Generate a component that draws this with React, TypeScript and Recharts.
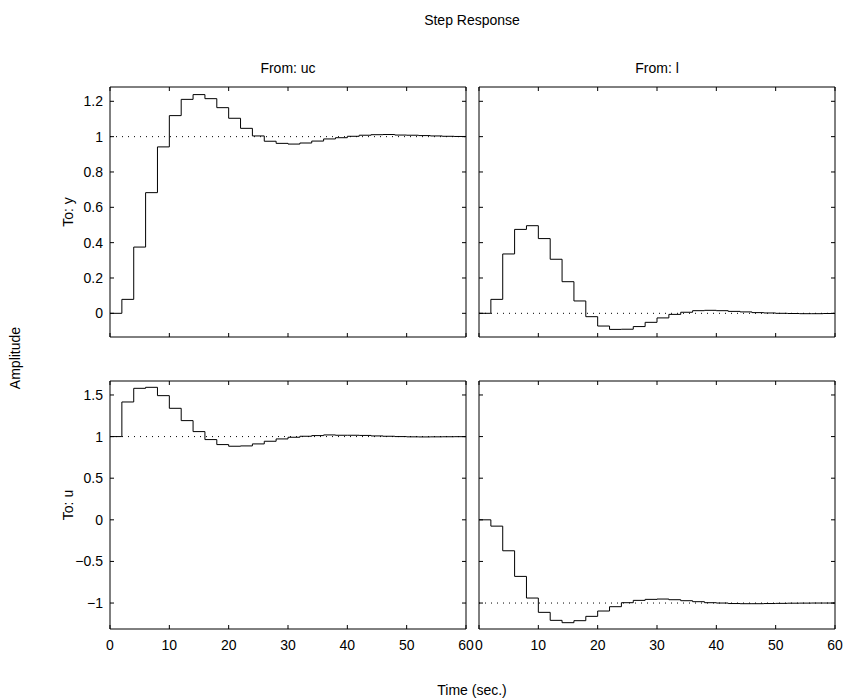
import { LineChart, Line, XAxis, YAxis, ReferenceLine } from 'recharts';

// sample instants (sec), sampling period 2
const time = [0, 2, 4, 6, 8, 10, 12, 14, 16, 18, 20, 22, 24, 26, 28, 30, 32, 34, 36, 38, 40, 42, 44, 46, 48, 50, 52, 54, 56, 58, 60];

// From: uc -> To: y
const ucToY = [0, 0.079, 0.375, 0.683, 0.942, 1.119, 1.211, 1.238, 1.215, 1.164, 1.104, 1.047, 1.004, 0.974, 0.962, 0.958, 0.964, 0.975, 0.987, 0.994, 1.002, 1.008, 1.011, 1.012, 1.009, 1.008, 1.006, 1.004, 1.002, 1.001, 1.0];
// From: l -> To: y
const lToY = [0, 0.079, 0.336, 0.475, 0.496, 0.423, 0.306, 0.179, 0.07, -0.019, -0.072, -0.091, -0.09, -0.075, -0.051, -0.026, -0.006, 0.006, 0.015, 0.017, 0.015, 0.011, 0.008, 0.004, 0.002, 0, -0.001, -0.002, -0.002, -0.001, 0];
// From: uc -> To: u
const ucToU = [1.0, 1.416, 1.58, 1.592, 1.492, 1.34, 1.192, 1.06, 0.964, 0.904, 0.884, 0.888, 0.912, 0.944, 0.972, 0.992, 1.004, 1.012, 1.02, 1.016, 1.016, 1.014, 1.008, 1.004, 1.0, 0.997, 0.996, 0.997, 0.998, 0.999, 1.0];
// From: l -> To: u
const lToU = [0, -0.076, -0.372, -0.68, -0.94, -1.112, -1.208, -1.236, -1.212, -1.16, -1.096, -1.044, -0.996, -0.968, -0.956, -0.952, -0.96, -0.972, -0.984, -0.996, -1.0, -1.006, -1.008, -1.008, -1.006, -1.004, -1.002, -1.001, -1.0, -1.0, -1.0];

const timeTicks = [0, 10, 20, 30, 40, 50, 60];
const yTicksTop = [0, 0.2, 0.4, 0.6, 0.8, 1, 1.2];
const yTicksBottom = [-1, -0.5, 0, 0.5, 1, 1.5];

const FONT = '"Liberation Sans", Arial, Helvetica, sans-serif';
const FS = 14;
const TICK = 4;

const fmt = (v: number) => (v < 0 ? '\u2212' + String(-v) : String(v));

type PanelProps = {
  left: number;
  top: number;
  width: number;
  height: number;
  values: number[];
  yDomain: [number, number];
  yTicks: number[];
  refY: number;
  showX: boolean;
  showY: boolean;
};

function Panel({ left, top, width, height, values, yDomain, yTicks, refY, showX, showY }: PanelProps) {
  const ML = 60, MR = 20, MT = 6, MB = 30;
  const data = time.map((t, i) => ({ t, v: values[i] }));

  const xBottom = (p: any) => (
    <g>
      <line x1={p.x} x2={p.x} y1={p.y} y2={p.y - TICK} stroke="#000" />
      {showX && (
        <text x={p.x} y={p.y + 21} textAnchor="middle" fontSize={FS} fontFamily={FONT} fill="#000">
          {fmt(p.payload.value)}
        </text>
      )}
    </g>
  );
  const xTop = (p: any) => <line x1={p.x} x2={p.x} y1={p.y} y2={p.y + TICK} stroke="#000" />;
  const yLeft = (p: any) => (
    <g>
      <line x1={p.x} x2={p.x + TICK} y1={p.y} y2={p.y} stroke="#000" />
      {showY && (
        <text x={p.x - 7} y={p.y + 5} textAnchor="end" fontSize={FS} fontFamily={FONT} fill="#000">
          {fmt(p.payload.value)}
        </text>
      )}
    </g>
  );
  const yRight = (p: any) => <line x1={p.x} x2={p.x - TICK} y1={p.y} y2={p.y} stroke="#000" />;

  return (
    <div style={{ position: 'absolute', left: left - ML, top: top - MT }}>
      <LineChart width={width + ML + MR} height={height + MT + MB} data={data} margin={{ top: 0, right: 0, bottom: 0, left: 0 }}>
        <XAxis dataKey="t" type="number" domain={[0, 60]} ticks={timeTicks} interval={0} height={MB}
          allowDataOverflow tickSize={0} tickMargin={0} tickLine={false} axisLine={{ stroke: '#000' }} tick={xBottom} />
        <XAxis xAxisId="top" orientation="top" dataKey="t" type="number" domain={[0, 60]} ticks={timeTicks} interval={0} height={MT}
          allowDataOverflow tickSize={0} tickMargin={0} tickLine={false} axisLine={{ stroke: '#000' }} tick={xTop} />
        <YAxis type="number" domain={yDomain} ticks={yTicks} interval={0} width={ML}
          allowDataOverflow tickSize={0} tickMargin={0} tickLine={false} axisLine={{ stroke: '#000' }} tick={yLeft} />
        <YAxis yAxisId="right" orientation="right" type="number" domain={yDomain} ticks={yTicks} interval={0} width={MR}
          allowDataOverflow tickSize={0} tickMargin={0} tickLine={false} axisLine={{ stroke: '#000' }} tick={yRight} />
        <ReferenceLine y={refY} stroke="#000" strokeDasharray="1 5" />
        <Line type="stepAfter" dataKey="v" stroke="#000" strokeWidth={1} dot={false} activeDot={false} isAnimationActive={false} />
      </LineChart>
    </div>
  );
}

const label = (text: string, x: number, y: number, rotate = false) => (
  <div style={{
    position: 'absolute', left: x, top: y, transform: `translate(-50%, -50%)${rotate ? ' rotate(-90deg)' : ''}`,
    fontFamily: FONT, fontSize: FS, whiteSpace: 'nowrap', color: '#000',
  }}>{text}</div>
);

export default function App() {
  const topDomain: [number, number] = [-0.134, 1.281];
  const bottomDomain: [number, number] = [-1.312, 1.668];
  return (
    <div style={{ position: 'absolute', left: 0, top: 0, width: 845, height: 700, background: '#fff', overflow: 'hidden' }}>
      {label('Step Response', 472, 20)}
      {label('From: uc', 288, 68)}
      {label('From: l', 657, 68)}
      {label('Amplitude', 15, 358, true)}
      {label('To: y', 68, 212, true)}
      {label('To: u', 68, 505, true)}
      {label('Time (sec.)', 472, 690)}
      <Panel left={110} top={87} width={356} height={250} values={ucToY} yDomain={topDomain} yTicks={yTicksTop} refY={1} showX={false} showY />
      <Panel left={479} top={87} width={356} height={250} values={lToY} yDomain={topDomain} yTicks={yTicksTop} refY={0} showX={false} showY={false} />
      <Panel left={110} top={381} width={356} height={248} values={ucToU} yDomain={bottomDomain} yTicks={yTicksBottom} refY={1} showX showY />
      <Panel left={479} top={381} width={356} height={248} values={lToU} yDomain={bottomDomain} yTicks={yTicksBottom} refY={-1} showX showY={false} />
    </div>
  );
}
